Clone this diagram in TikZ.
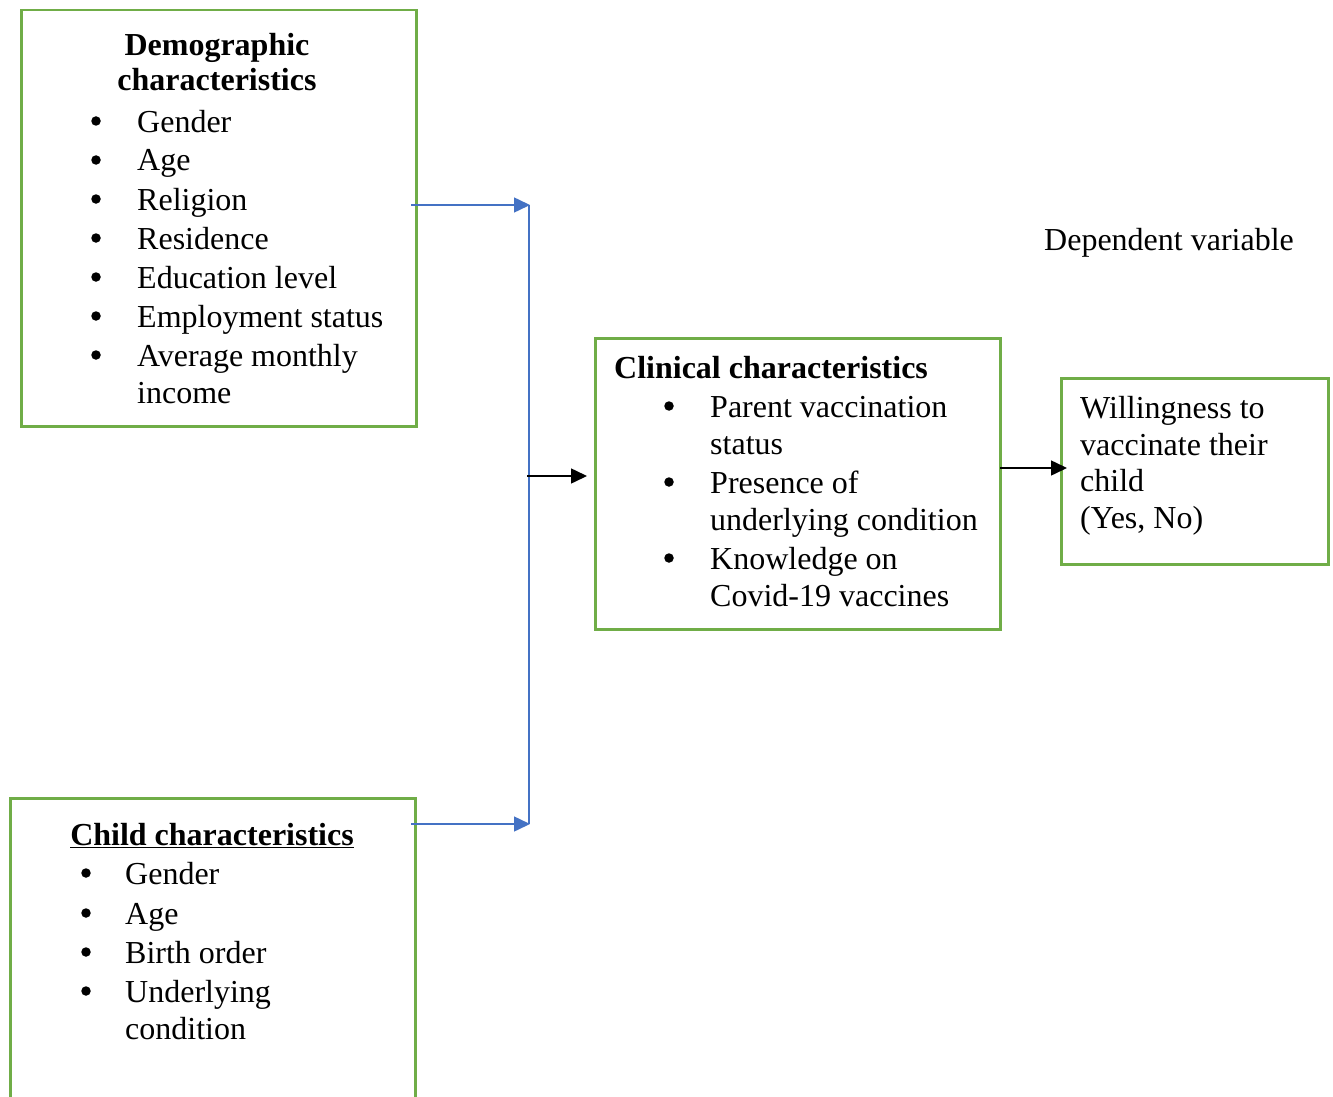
\documentclass[tikz,border=0pt]{standalone}
\usepackage{fontspec}
\setmainfont{Liberation Serif}
\usetikzlibrary{arrows.meta}
\definecolor{boxgreen}{HTML}{70AD47}
\definecolor{linkblue}{HTML}{4472C4}
\begin{document}
\begin{tikzpicture}[x=1pt,y=-1pt,
  box/.style={draw=boxgreen,line width=2.5pt,inner sep=0pt,anchor=north west},
  txt/.style={anchor=base west,inner sep=0pt,font=\fontsize{32}{39}\selectfont},
  ttl/.style={anchor=base,inner sep=0pt,font=\fontsize{32}{39}\selectfont\bfseries},
  bul/.style={circle,fill=black,inner sep=0pt,minimum size=9.5pt},
  bluearrow/.style={draw=linkblue,line width=1.5pt,-{Triangle[length=16pt,width=15pt]}},
  blueline/.style={draw=linkblue,line width=1.5pt},
  blackarrow/.style={draw=black,line width=1.5pt,-{Triangle[length=16pt,width=15pt]}}]
\useasboundingbox (0,0) rectangle (1333,1097);
\clip (0,0) rectangle (1333,1097);

% Demographic box
\node[box,minimum width=395pt,minimum height=416pt] (demo) at (20,9) {};
\node[ttl] (demot1) at (217,56) {Demographic};
\node[ttl] (demot2) at (217,91) {characteristics};
\foreach \n/\y/\t in {1/131/Gender,2/170/Age,3/209/Religion,4/248/Residence,5/287/Education level,6/326/Employment status,7/365/Average monthly}{
  \node[bul] (demob\n) at (96,\y-10) {};
  \node[txt] (demo\n) at (137,\y+1) {\t};
}
\node[txt] (demo8) at (137,403) {income};

% Child box
\node[box,minimum width=405pt,minimum height=330pt] (child) at (9,797) {};
\node[ttl] (childt) at (212,845) {\underline{Child characteristics}};
\foreach \n/\y/\t in {1/883/Gender,2/923/Age,3/962/Birth order,4/1001/Underlying}{
  \node[bul] (childb\n) at (86,\y-10) {};
  \node[txt] (child\n) at (125,\y+1) {\t};
}
\node[txt] (child5) at (125,1039) {condition};

% Clinical box
\node[box,minimum width=405pt,minimum height=291pt] (clin) at (594,337) {};
\node[ttl,anchor=base west] (clint) at (614,378) {Clinical characteristics};
\node[bul] (clinb1) at (669,406) {};
\node[txt] (clin1) at (710,417) {Parent vaccination};
\node[txt] (clin2) at (710,454) {status};
\node[bul] (clinb2) at (669,482) {};
\node[txt] (clin3) at (710,493) {Presence of};
\node[txt] (clin4) at (710,530) {underlying condition};
\node[bul] (clinb3) at (669,558) {};
\node[txt] (clin5) at (710,569) {Knowledge on};
\node[txt] (clin6) at (710,606) {Covid-19 vaccines};

% Willingness box
\node[box,minimum width=267pt,minimum height=186pt] (will) at (1060,377) {};
\node[txt] (will1) at (1080,418) {Willingness to};
\node[txt] (will2) at (1080,455) {vaccinate their};
\node[txt] (will3) at (1080,491) {child};
\node[txt] (will4) at (1080,528) {(Yes, No)};

\node[txt] (dep) at (1044,250) {Dependent variable};

% Connectors
\coordinate (a1) at (411,205);
\coordinate (j1) at (530,205);
\coordinate (a2) at (411,824);
\coordinate (j2) at (530,824);
\coordinate (jm) at (527,476);
\coordinate (cw) at (594,476);
\coordinate (ce) at (1000,468);
\coordinate (wi) at (1067,468);
\draw[bluearrow] (a1) -- (j1);
\draw[bluearrow] (a2) -- (j2);
\draw[blueline] ([xshift=-1pt]j1) -- ([xshift=-1pt]j2);
\draw[blackarrow,shorten >=7pt] (jm) -- (cw);
\draw[blackarrow] (ce) -- (wi);
\end{tikzpicture}
\end{document}
